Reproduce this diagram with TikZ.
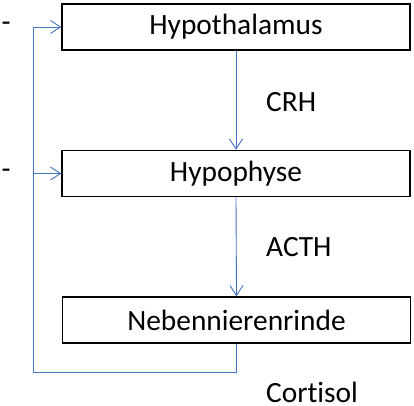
\documentclass[tikz,border=0pt]{standalone}
\usepackage{fontspec}
\setmainfont[Ligatures=NoCommon]{Carlito}
\usetikzlibrary{arrows.meta}
\definecolor{fbblue}{RGB}{68,114,196}
\begin{document}
\begin{tikzpicture}[x=1bp,y=-1bp,
  box/.style={draw=black,line width=1.4bp,minimum width=348bp,minimum height=46bp,inner sep=0pt,font=\fontsize{29.5}{32}\selectfont},
  lbl/.style={anchor=west,inner sep=0pt,font=\fontsize{29.5}{32}\selectfont},
  conn/.style={draw=fbblue,line width=0.9bp,-{Straight Barb[length=10bp,width=13bp,line width=0.9bp]}},
  plain/.style={draw=fbblue,line width=0.9bp}]
\useasboundingbox (0,0) rectangle (414,406);
\node[box] (h) at (236,27) {Hypothalamus};
\node[box] (p) at (236,173.5) {Hypophyse};
\node[box] (n) at (236.5,320) {Nebennierenrinde};
\node[lbl] (crh) at (266,102) {CRH};
\node[lbl] (acth) at (266,247) {ACTH};
\node[lbl] (cort) at (266,392) {Cortisol};
\node[inner sep=0pt,font=\fontsize{29.5}{32}\selectfont] (m1) at (6,27) {-};
\node[inner sep=0pt,font=\fontsize{29.5}{32}\selectfont] (m2) at (6,173.5) {-};
\draw[conn] (h.south) -- (p.north);
\draw[conn] (p.south) -- (n.north);
\coordinate (fb) at (33,372);
\coordinate (j) at (33,173.5);
\draw[conn] (n.south) |- (fb) |- (h.west);
\draw[conn] (j) -- (p.west);
\end{tikzpicture}
\end{document}
